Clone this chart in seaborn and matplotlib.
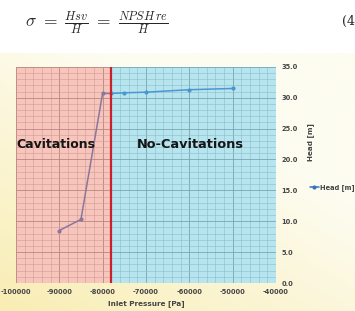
import numpy as np
import pandas as pd
import matplotlib
matplotlib.use("Agg")
import matplotlib.pyplot as plt
from matplotlib.ticker import MultipleLocator
import seaborn as sns

# data
pressure = [-90000, -85000, -80000, -78000, -75000, -70000, -60000, -50000]
head = [8.5, 10.3, 30.7, 30.7, 30.8, 30.9, 31.3, 31.5]
limit_pressure = -78000
zone_labels = ["Cavitations", "No-Cavitations"]

df = pd.DataFrame({"Inlet Pressure [Pa]": pressure, "Head [m]": head})

sns.set_style("white")
plt.rcParams['font.family'] = ['DejaVu Sans']
plt.rcParams['axes.unicode_minus'] = False

fig = plt.figure(figsize=(3.55, 3.11), dpi=100)
fig.patch.set_facecolor("white")

# cream / yellow background of the slide below the equation
bg = fig.add_axes([0, 0, 1, 0.83], zorder=-10)
gx, gy = np.meshgrid(np.linspace(0, 1, 200), np.linspace(0, 1, 200))
t = np.clip((0.8 * gx + 1.0 * gy) / 1.2, 0, 1)  # 1 = cream, 0 = yellow
c_yel = np.array([249, 237, 180]) / 255
c_cre = np.array([253, 252, 240]) / 255
img = c_yel[None, None, :] * (1 - t[..., None]) + c_cre[None, None, :] * t[..., None]
bg.imshow(img, aspect="auto", extent=[0, 1, 0, 1], origin="lower")
bg.axis("off")

# equation on top
fig.text(0.07, 0.925, r"$\sigma\ =\ \frac{Hsv}{H}\ =\ \frac{NPSH\,re}{H}$",
         fontsize=12.5, va="center", ha="left", math_fontfamily="cm")
fig.text(0.962, 0.93, "(4", fontsize=9, va="center", ha="left", family="DejaVu Serif")

ax = fig.add_axes([0.045, 0.09, 0.732, 0.695])
ax.set_facecolor("white")

sns.lineplot(data=df, x="Inlet Pressure [Pa]", y="Head [m]", ax=ax, color="#3a70c4",
             marker="o", markersize=3, linewidth=1.1, markeredgewidth=0,
             label="Head [m]", zorder=2)

ax.set_xlim(-100000, -40000)
ax.set_ylim(0, 35)
ax.xaxis.set_major_locator(MultipleLocator(10000))
ax.xaxis.set_minor_locator(MultipleLocator(2000))
ax.yaxis.set_major_locator(MultipleLocator(5))
ax.yaxis.set_minor_locator(MultipleLocator(1))
ax.set_axisbelow(True)
ax.grid(which="major", color="#8c8c8c", linewidth=0.6)
ax.grid(which="minor", color="#b4b4b4", linewidth=0.4)

# zones (semi transparent, above the line)
ax.axvspan(-100000, limit_pressure, color="#ef7f6c", alpha=0.45, lw=0, zorder=3)
ax.axvspan(limit_pressure, -40000, color="#5ec6de", alpha=0.45, lw=0, zorder=3)
ax.axvline(limit_pressure, color="#c8202c", linewidth=1.6, zorder=4)

ax.text(-100000 + 200, 22.4, zone_labels[0], fontsize=9, fontweight="bold",
        color="#151515", va="center", ha="left", zorder=5)
ax.text(-59700, 22.4, zone_labels[1], fontsize=9.3, fontweight="bold",
        color="#151515", va="center", ha="center", zorder=5)

ax.yaxis.tick_right()
ax.set_yticks(np.arange(0, 36, 5))
ax.set_yticklabels([f"{v:.1f}" for v in np.arange(0, 36, 5)])
ax.tick_params(axis="both", which="both", length=0, labelsize=4.8, colors="#444444", pad=4)
for lab in ax.get_xticklabels() + ax.get_yticklabels():
    lab.set_fontweight("bold")
ax.set_xlabel("Inlet Pressure [Pa]", fontsize=5.2, fontweight="bold", color="#444444", labelpad=4)
ax.set_ylabel("Head [m]", fontsize=5.2, fontweight="bold", color="#444444")
ax.yaxis.set_label_position("right")
ax.yaxis.set_label_coords(1.12, 0.65)

for s in ax.spines.values():
    s.set_visible(False)

leg = ax.legend(loc="center left", bbox_to_anchor=(1.12, 0.44), frameon=False,
                fontsize=4.8, handlelength=1.4, handletextpad=0.2, borderaxespad=0)
for txt in leg.get_texts():
    txt.set_color("#444444")
    txt.set_fontweight("bold")

fig.savefig("out.png", dpi=100)
